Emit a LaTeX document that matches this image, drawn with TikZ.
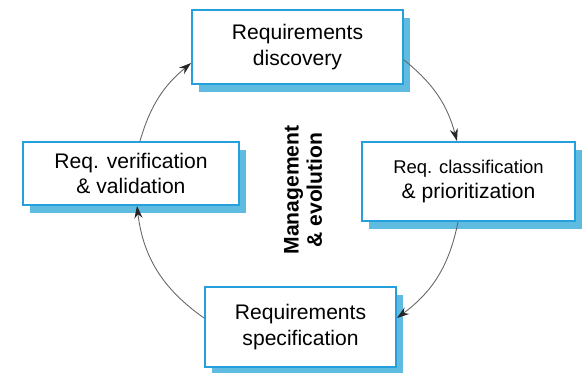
\documentclass[tikz,border=0pt]{standalone}
\usepackage{fontspec}
\setmainfont{Liberation Sans}
\usepackage{tikz}
\usetikzlibrary{shadows}
\usetikzlibrary{arrows.meta,shapes}
\definecolor{boxblue}{RGB}{38,160,220}
\definecolor{shadowblue}{RGB}{96,187,225}
\tikzstyle{stage}=[rectangle,draw=boxblue,line width=1.1pt,fill=white,inner sep=0pt,align=center,
  font=\fontsize{12}{14.4}\selectfont,
  drop shadow={shadow xshift=0.14cm,shadow yshift=-0.16cm,fill=shadowblue,opacity=1}]
\tikzstyle{flow}=[draw=black!60,line width=0.5pt,-{Stealth[length=7pt,width=4.6pt,black!85]}]

\begin{document}
\begin{tikzpicture}

    \useasboundingbox (0,0) rectangle (11.7,7.44);

    \foreach \pos/\name/\w/\h/\txt in {{(5.95,6.50)/disc/4.22/1.48/{Requirements\\discovery}},
        {(9.37,3.81)/classify/4.26/1.58/{{\fontsize{10.5}{13}\selectfont Req. classification}\\\& prioritization}},
        {(6.01,0.90)/spec/3.82/1.60/{Requirements\\specification}},
        {(2.62,3.97)/verify/4.32/1.26/{Req. verification\\\& validation}}}
        \node[stage, minimum width=\w cm, minimum height=\h cm] (\name) at \pos {\txt};

    \draw[flow] ([yshift=-0.26cm]disc.east) to[bend left=18] ([xshift=-0.23cm]classify.north);
    \draw[flow] ([xshift=-0.21cm]classify.south) to[bend left=21] ([yshift=0.18cm]spec.east);
    \draw[flow] ([yshift=0.18cm]spec.west) to[bend left=24] ([xshift=0.12cm]verify.south);
    \draw[flow] ([xshift=0.18cm]verify.north) to[bend left=17] ([yshift=-0.32cm]disc.west);

    \node[rotate=90, align=center, font=\bfseries\fontsize{12}{13.2}\selectfont] (mgmt) at (6.06,3.64) {Management\\\& evolution};

\end{tikzpicture}
\end{document}
